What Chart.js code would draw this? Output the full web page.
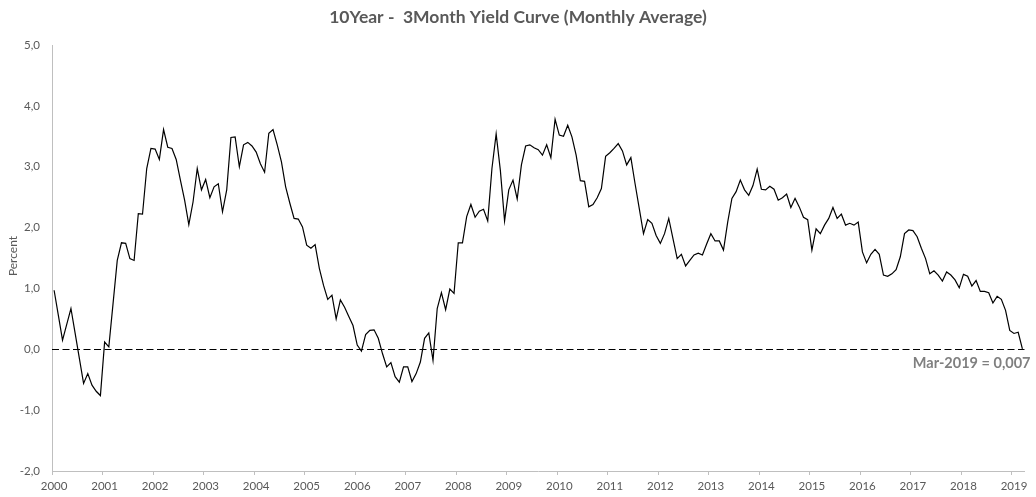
<!DOCTYPE html>
<html>
<head>
<meta charset="utf-8">
<script src="https://cdn.jsdelivr.net/npm/chart.js@4.4.1/dist/chart.umd.min.js"></script>
<style>
  html, body { margin: 0; padding: 0; background: #ffffff; }
  #wrap { width: 1036px; height: 497px; position: relative; }
</style>
</head>
<body>
<div id="wrap"><canvas id="c" width="1036" height="497"></canvas></div>
<script>
// ---- Texts ----
const titleText = '10Year -  3Month Yield Curve (Monthly Average)';
const yAxisTitle = 'Percent';
const lastPointLabel = 'Mar-2019 = 0,007';

// ---- Categories ----
const years = [2000, 2001, 2002, 2003, 2004, 2005, 2006, 2007, 2008, 2009,
               2010, 2011, 2012, 2013, 2014, 2015, 2016, 2017, 2018, 2019];
const monthNames = ['Jan','Feb','Mar','Apr','May','Jun','Jul','Aug','Sep','Oct','Nov','Dec'];

// ---- Series values (10Y - 3M spread, percent), one array per year ----
const v2000 = [0.97, 0.56, 0.15, 0.41, 0.67, 0.26, -0.15, -0.56, -0.40, -0.59, -0.69, -0.76];
const v2001 = [0.12, 0.04, 0.75, 1.46, 1.75, 1.74, 1.49, 1.46, 2.23, 2.22, 2.97, 3.30];
const v2002 = [3.29, 3.12, 3.61, 3.32, 3.30, 3.12, 2.78, 2.45, 2.05, 2.42, 2.97, 2.62];
const v2003 = [2.79, 2.49, 2.67, 2.72, 2.26, 2.62, 3.48, 3.49, 3.00, 3.36, 3.40, 3.34];
const v2004 = [3.24, 3.05, 2.91, 3.55, 3.61, 3.36, 3.08, 2.67, 2.40, 2.15, 2.14, 2.01];
const v2005 = [1.71, 1.66, 1.72, 1.33, 1.05, 0.82, 0.89, 0.50, 0.81, 0.69, 0.54, 0.39];
const v2006 = [0.07, -0.03, 0.24, 0.31, 0.32, 0.18, -0.07, -0.29, -0.22, -0.45, -0.54, -0.29];
const v2007 = [-0.29, -0.53, -0.40, -0.21, 0.18, 0.27, -0.18, 0.67, 0.93, 0.65, 0.99, 0.92];
const v2008 = [1.75, 1.75, 2.18, 2.38, 2.17, 2.27, 2.30, 2.11, 2.97, 3.54, 2.94, 2.11];
const v2009 = [2.62, 2.78, 2.47, 3.03, 3.34, 3.36, 3.31, 3.28, 3.19, 3.36, 3.15, 3.78];
const v2010 = [3.52, 3.50, 3.68, 3.49, 3.19, 2.77, 2.76, 2.34, 2.38, 2.49, 2.64, 3.17];
const v2011 = [3.23, 3.30, 3.38, 3.26, 3.03, 3.15, 2.72, 2.31, 1.90, 2.13, 2.07, 1.87];
const v2012 = [1.74, 1.90, 2.15, 1.82, 1.49, 1.56, 1.37, 1.46, 1.55, 1.58, 1.55, 1.73];
const v2013 = [1.90, 1.78, 1.78, 1.63, 2.09, 2.48, 2.59, 2.78, 2.62, 2.53, 2.69, 2.96];
const v2014 = [2.63, 2.62, 2.68, 2.63, 2.45, 2.49, 2.55, 2.33, 2.48, 2.34, 2.17, 2.13];
const v2015 = [1.63, 1.98, 1.90, 2.04, 2.15, 2.33, 2.15, 2.22, 2.04, 2.07, 2.04, 2.09];
const v2016 = [1.60, 1.42, 1.56, 1.64, 1.56, 1.22, 1.20, 1.24, 1.31, 1.52, 1.90, 1.96];
const v2017 = [1.95, 1.85, 1.66, 1.49, 1.24, 1.29, 1.22, 1.12, 1.27, 1.22, 1.14, 1.01];
const v2018 = [1.23, 1.20, 1.04, 1.13, 0.95, 0.95, 0.93, 0.76, 0.87, 0.82, 0.64, 0.31];
const v2019 = [0.26, 0.28, 0.007];

// ---- Y tick labels ----
const yMin = -2;
const yMax = 5;
const yStep = 1;

// ---- Build the library table from the arrays ----
const perYear = [v2000, v2001, v2002, v2003, v2004, v2005, v2006, v2007, v2008, v2009,
                 v2010, v2011, v2012, v2013, v2014, v2015, v2016, v2017, v2018, v2019];
const labels = [];
const values = [];
years.forEach((yr, i) => {
  perYear[i].forEach((v, m) => {
    labels.push(monthNames[m] + '-' + yr);
    values.push(v);
  });
});

const FONT = 'Lato, "Open Sans", "Liberation Sans", sans-serif';
const GREY_TXT = '#595959';
const AXIS_COL = '#bfbfbf';

const extras = {
  id: 'extras',
  beforeDatasetsDraw(chart) {
    const { ctx, chartArea, scales } = chart;
    const y0 = scales.y.getPixelForValue(0);
    ctx.save();
    ctx.strokeStyle = '#000000';
    ctx.lineWidth = 1;
    ctx.setLineDash([7, 3.5]);
    ctx.beginPath();
    ctx.moveTo(chartArea.left, Math.round(y0) + 0.5);
    ctx.lineTo(chartArea.right, Math.round(y0) + 0.5);
    ctx.stroke();
    ctx.restore();
  },
  afterDraw(chart) {
    const { ctx, chartArea, scales } = chart;
    ctx.save();
    // Title
    ctx.fillStyle = GREY_TXT;
    ctx.font = 'bold 17.5px ' + FONT;
    ctx.textAlign = 'center';
    ctx.textBaseline = 'middle';
    ctx.fillText(titleText, chart.width / 2, 17);
    // Y axis title
    ctx.save();
    ctx.translate(13, (chartArea.top + chartArea.bottom) / 2 - 2);
    ctx.rotate(-Math.PI / 2);
    ctx.font = '12px ' + FONT;
    ctx.fillStyle = GREY_TXT;
    ctx.textAlign = 'center';
    ctx.textBaseline = 'middle';
    ctx.fillText(yAxisTitle, 0, 0);
    ctx.restore();
    // Last point annotation
    const y0 = scales.y.getPixelForValue(values[values.length - 1]);
    ctx.font = 'bold 14.5px ' + FONT;
    ctx.fillStyle = '#7f7f7f';
    ctx.textAlign = 'right';
    ctx.textBaseline = 'middle';
    ctx.fillText(lastPointLabel, chartArea.right + 6, y0 + 14);
    ctx.restore();
  }
};

new Chart(document.getElementById('c'), {
  type: 'line',
  data: {
    labels: labels,
    datasets: [{
      label: '10Y-3M',
      data: values,
      borderColor: '#000000',
      borderWidth: 1.2,
      pointRadius: 0,
      pointHoverRadius: 0,
      tension: 0,
      fill: false
    }]
  },
  options: {
    responsive: false,
    animation: false,
    devicePixelRatio: 1,
    layout: { padding: { top: 45, right: 11.5, bottom: 0, left: 0 } },
    plugins: {
      legend: { display: false },
      title: { display: false },
      tooltip: { enabled: false }
    },
    scales: {
      x: {
        type: 'category',
        offset: true,
        afterFit(scale) { scale.height = 26; },
        grid: {
          offset: true,
          drawOnChartArea: false,
          drawTicks: true,
          tickLength: 4,
          color: (c) => (c.index % 12 === 0 ? AXIS_COL : 'rgba(0,0,0,0)'),
          tickColor: (c) => (c.index % 12 === 0 ? AXIS_COL : 'rgba(0,0,0,0)')
        },
        border: { display: true, color: AXIS_COL, width: 1 },
        ticks: {
          autoSkip: false,
          maxRotation: 0,
          minRotation: 0,
          padding: 4,
          color: GREY_TXT,
          font: { family: FONT, size: 11.5 },
          callback: (val, i) => (i % 12 === 0 ? String(years[i / 12]) : '')
        }
      },
      y: {
        min: yMin,
        max: yMax,
        afterFit(scale) { scale.width = 52; },
        grid: { display: true, drawOnChartArea: false, drawTicks: false },
        border: { display: true, color: AXIS_COL, width: 1 },
        ticks: {
          stepSize: yStep,
          padding: 12,
          color: GREY_TXT,
          font: { family: FONT, size: 11.5 },
          callback: (v) => Number(v).toFixed(1).replace('.', ',')
        }
      }
    }
  },
  plugins: [extras]
});
</script>
</body>
</html>
